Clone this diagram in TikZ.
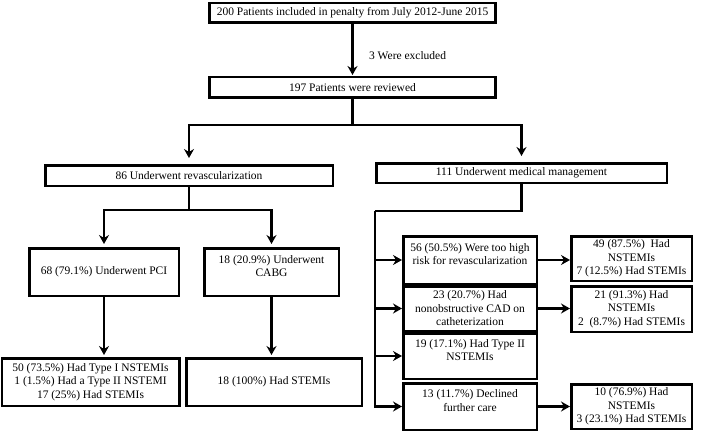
\documentclass[tikz,border=0pt]{standalone}
\usepackage{fontspec}
\setmainfont{Liberation Serif}
\usetikzlibrary{arrows.meta}
\begin{document}
\begin{tikzpicture}[x=1pt,y=-1pt,
    box/.style={draw,line width=2.5pt,inner sep=0pt,align=center,
      font=\fontsize{11.5}{13.5}\selectfont},
    topbox/.style={box,text depth=12pt},
    lbl/.style={right,xshift=12pt,font=\fontsize{11.5}{13.5}\selectfont},
    ln/.style={line width=2.5pt},
    arr/.style={line width=2.5pt,-{Stealth[length=9pt,width=10pt,inset=3pt]}}]
  \useasboundingbox (0,0) rectangle (709,433);
  \draw
    (352.5,13) node[box,minimum width=286pt,minimum height=19.5pt] (all){200 Patients included in penalty from July 2012-June 2015}
    (352.5,87.5) node[box,minimum width=286pt,minimum height=20.5pt] (rev){197 Patients were reviewed}
    (189,175.5) node[box,minimum width=287.5pt,minimum height=20.5pt] (revasc){86 Underwent revascularization}
    (521.5,173) node[box,minimum width=290.5pt,minimum height=19.5pt] (med){111 Underwent medical management}
    (104,272) node[box,minimum width=149.5pt,minimum height=47.5pt] (pci){68 (79.1\%) Underwent PCI}
    (271.5,272) node[topbox,minimum width=134.5pt,minimum height=47.5pt] (cabg){18 (20.9\%) Underwent\\CABG}
    (90.5,382) node[box,minimum width=177.5pt,minimum height=47.5pt] (opci){50 (73.5\%) Had Type I NSTEMIs\\1 (1.5\%) Had a Type II NSTEMI\\17 (25\%) Had STEMIs}
    (274,382) node[box,minimum width=175.5pt,minimum height=47.5pt] (ocabg){18 (100\%) Had STEMIs}
    (470,260) node[topbox,minimum width=133.5pt,minimum height=47.5pt] (s1){56 (50.5\%) Were too high\\risk for revascularization}
    (470,308.5) node[box,minimum width=133.5pt,minimum height=44.5pt] (s2){23 (20.7\%) Had\\nonobstructive CAD on\\catheterization}
    (470,356) node[topbox,minimum width=133.5pt,minimum height=45.5pt] (s3){19 (17.1\%) Had Type II\\NSTEMIs}
    (470,406.5) node[topbox,minimum width=133.5pt,minimum height=46.5pt] (s4){13 (11.7\%) Declined\\further care}
    (631.5,258.5) node[box,minimum width=120.5pt,minimum height=44.5pt] (r1){49 (87.5\%)\ \ Had\\NSTEMIs\\7 (12.5\%) Had STEMIs}
    (631.5,309) node[box,minimum width=120.5pt,minimum height=45.5pt] (r2){21 (91.3\%) Had\\NSTEMIs\\2\ \ (8.7\%) Had STEMIs}
    (631.5,406.5) node[box,minimum width=120.5pt,minimum height=44.5pt] (r4){10 (76.9\%) Had\\NSTEMIs\\3 (23.1\%) Had STEMIs};
  \coordinate (j0) at (352.5,125);
  \coordinate (j1) at (189,210);
  \coordinate (j2) at (375,211);
  \begin{scope}
    \draw[arr,shorten >=1pt] (all) -- node[lbl,pos=0.6] (excl){3 Were excluded} (rev);
    \draw[ln] (rev) -- (j0);
    \draw[arr,shorten >=6pt] (j0) -| (revasc);
    \draw[arr,shorten >=6pt] (j0) -| (med);
    \draw[ln] (revasc) -- (j1);
    \draw[arr,shorten >=3pt] (j1) -| (pci);
    \draw[arr,shorten >=3pt] (j1) -| (cabg);
    \draw[arr,shorten >=2pt] (pci.south) -- (pci.south |- opci.north);
    \draw[arr,shorten >=2pt] (cabg.south) -- (cabg.south |- ocabg.north);
    \draw[ln] (med) |- (j2);
    \draw[arr] (j2) |- (s4);
    \draw[arr] (j2 |- s1.west) -- (s1);
    \draw[arr] (j2 |- s2.west) -- (s2);
    \draw[arr] (j2 |- s3.west) -- (s3);
    \draw[arr] (s1.east) -- (s1.east -| r1.west);
    \draw[arr] (s2.east) -- (s2.east -| r2.west);
    \draw[arr] (s4.east) -- (s4.east -| r4.west);
  \end{scope}
\end{tikzpicture}
\end{document}
